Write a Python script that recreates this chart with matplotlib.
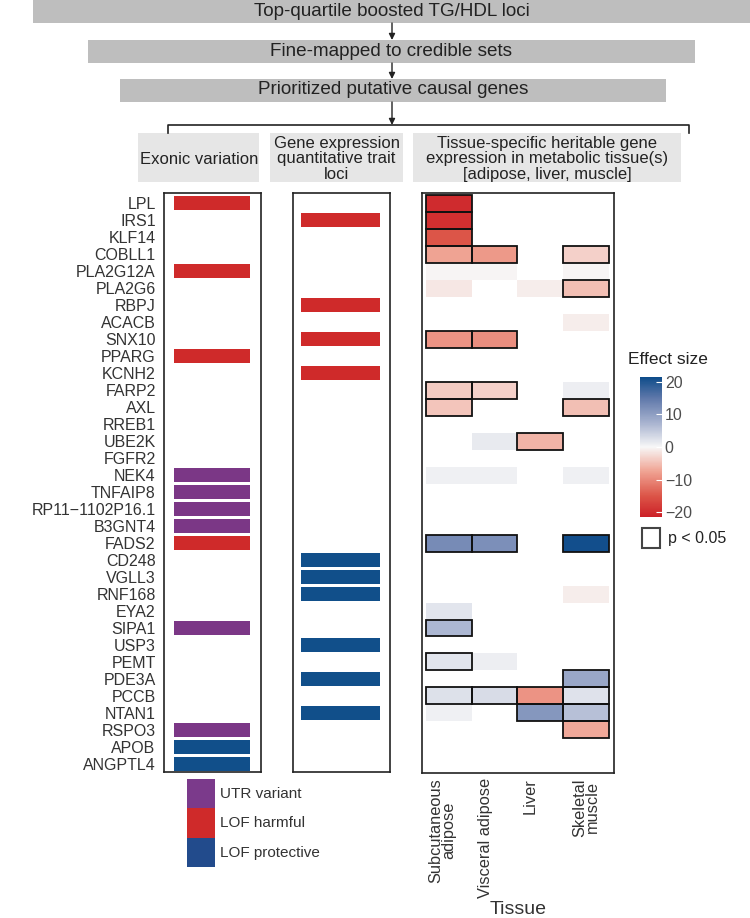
import numpy as np
import matplotlib
matplotlib.use('Agg')
import matplotlib.pyplot as plt
from matplotlib.colors import LinearSegmentedColormap, Normalize
from matplotlib.patches import Rectangle
from matplotlib.cm import ScalarMappable
from matplotlib.transforms import blended_transform_factory

plt.rcParams['font.family'] = ['Liberation Sans', 'DejaVu Sans']

# ---------------- data ----------------
genes = ['LPL', 'IRS1', 'KLF14', 'COBLL1', 'PLA2G12A', 'PLA2G6', 'RBPJ', 'ACACB',
         'SNX10', 'PPARG', 'KCNH2', 'FARP2', 'AXL', 'RREB1', 'UBE2K', 'FGFR2',
         'NEK4', 'TNFAIP8', 'RP11\u22121102P16.1', 'B3GNT4', 'FADS2', 'CD248',
         'VGLL3', 'RNF168', 'EYA2', 'SIPA1', 'USP3', 'PEMT', 'PDE3A', 'PCCB',
         'NTAN1', 'RSPO3', 'APOB', 'ANGPTL4']

exonic_genes = ['LPL', 'PLA2G12A', 'PPARG', 'NEK4', 'TNFAIP8', 'RP11\u22121102P16.1',
                'B3GNT4', 'FADS2', 'SIPA1', 'RSPO3', 'APOB', 'ANGPTL4']
exonic_class = ['LOF harmful', 'LOF harmful', 'LOF harmful', 'UTR variant', 'UTR variant',
                'UTR variant', 'UTR variant', 'LOF harmful', 'UTR variant', 'UTR variant',
                'LOF protective', 'LOF protective']

eqtl_genes = ['IRS1', 'RBPJ', 'SNX10', 'KCNH2', 'CD248', 'VGLL3', 'RNF168', 'USP3',
              'PDE3A', 'NTAN1']
eqtl_class = ['LOF harmful'] * 4 + ['LOF protective'] * 6

class_names = ['UTR variant', 'LOF harmful', 'LOF protective']

tissues = ['Subcutaneous\nadipose', 'Visceral adipose', 'Liver', 'Skeletal\nmuscle']

# heritable expression results: gene, tissue index, effect size, p < 0.05
heat_gene = ['LPL', 'IRS1', 'KLF14',
             'COBLL1', 'COBLL1', 'COBLL1',
             'PLA2G12A', 'PLA2G12A', 'PLA2G12A',
             'PLA2G6', 'PLA2G6', 'PLA2G6',
             'ACACB',
             'SNX10', 'SNX10',
             'FARP2', 'FARP2', 'FARP2',
             'AXL', 'AXL',
             'UBE2K', 'UBE2K',
             'NEK4', 'NEK4', 'NEK4',
             'FADS2', 'FADS2', 'FADS2',
             'RNF168', 'EYA2', 'SIPA1',
             'PEMT', 'PEMT',
             'PDE3A',
             'PCCB', 'PCCB', 'PCCB', 'PCCB',
             'NTAN1', 'NTAN1', 'NTAN1',
             'RSPO3']
heat_tissue = [0, 0, 0,
               0, 1, 3,
               0, 1, 3,
               0, 2, 3,
               3,
               0, 1,
               0, 1, 3,
               0, 3,
               1, 2,
               0, 1, 3,
               0, 1, 3,
               3, 0, 0,
               0, 1,
               3,
               0, 1, 2, 3,
               0, 2, 3,
               3]
heat_effect = [-20.0, -19.5, -15.0,
               -7.5, -8.5, -3.5,
               -0.3, -0.3, -0.3,
               -1.5, -1.0, -5.0,
               -1.0,
               -9.0, -9.5,
               -4.0, -3.5, 1.0,
               -4.5, -5.0,
               1.5, -6.0,
               0.7, 0.7, 0.8,
               12.5, 12.0, 21.0,
               -1.0, 2.0, 7.0,
               2.0, 1.0,
               9.0,
               2.5, 3.0, -9.0, 2.3,
               0.8, 11.0, 6.0,
               -7.0]
heat_sig = [True, True, True,
            True, True, True,
            False, False, False,
            False, False, True,
            False,
            True, True,
            True, True, False,
            True, True,
            False, True,
            False, False, False,
            True, True, True,
            False, False, True,
            True, False,
            True,
            True, True, True, True,
            False, True, True,
            True]

cbar_ticks = [20, 10, 0, -10, -20]

# ---------------- styling ----------------
W, H = 750, 918
class_colors = {'UTR variant': '#7B3786', 'LOF harmful': '#CF2A2A', 'LOF protective': '#114F8A'}
legend_colors = {'UTR variant': '#7B3A8B', 'LOF harmful': '#CF2A2A', 'LOF protective': '#224B8C'}
cmap = LinearSegmentedColormap.from_list(
    'eff', [(0.0, '#CC2027'), (0.15, '#DC5548'), (0.33, '#F0A595'), (0.5, '#F7F7F7'),
            (0.67, '#A9B4D0'), (0.85, '#5F78AA'), (1.0, '#0E4C8A')])
norm = Normalize(-21.5, 21.5)
txt = '#333333'
dark = '#222222'

fig = plt.figure(figsize=(W / 100, H / 100), dpi=100)


def ax_px(x0, y0, x1, y1, **kw):
    return fig.add_axes([x0 / W, 1 - y1 / H, (x1 - x0) / W, (y1 - y0) / H], **kw)


# overlay for the flow chart / legends
ov = ax_px(0, 0, W, H)
ov.set_xlim(0, W)
ov.set_ylim(H, 0)
ov.axis('off')


def box(x0, y0, x1, y1, fc):
    ov.add_patch(Rectangle((x0, y0), x1 - x0, y1 - y0, fc=fc, ec='none'))


box(33, 0, 751, 23, '#BEBEBE')
ov.text(392, 11, 'Top-quartile boosted TG/HDL loci', ha='center', va='center', fontsize=13.6, color=dark)
box(88, 40, 695, 63, '#BEBEBE')
ov.text(391.5, 51, 'Fine-mapped to credible sets', ha='center', va='center', fontsize=13.6, color=dark)
box(120, 79, 666, 102, '#BEBEBE')
ov.text(393.5, 90, 'Prioritized putative causal genes', ha='center', va='center', fontsize=13.6, color=dark)

for ya, yb in [(23, 40), (63, 79), (102, 125)]:
    ov.annotate('', xy=(392, yb), xytext=(392, ya),
                arrowprops=dict(arrowstyle='-|>', color=dark, lw=1.0, mutation_scale=9,
                                shrinkA=0, shrinkB=0))
ov.plot([168, 168, 689, 689], [133, 125, 125, 133], color=dark, lw=1.2)

box(138, 133, 259, 182, '#E6E6E6')
ov.text(199, 159, 'Exonic variation', ha='center', va='center', fontsize=12, color=dark)
box(270, 133, 403, 182, '#E6E6E6')
ov.text(336.5, 159, 'Gene expression\nquantitative trait\nloci', ha='center', va='center',
        fontsize=12, color=dark, linespacing=1.06)
box(413, 133, 681, 182, '#E6E6E6')
ov.text(547, 159, 'Tissue-specific heritable gene\nexpression in metabolic tissue(s)\n[adipose, liver, muscle]',
        ha='center', va='center', fontsize=12, color=dark, linespacing=1.06)

# class legend
for i, c in enumerate(class_names):
    ov.add_patch(Rectangle((187, 779 + 29.3 * i), 28, 29.3, fc=legend_colors[c], ec='none'))
    ov.text(220, 794 + 29.3 * i, c, ha='left', va='center', fontsize=11, color=txt)

# p legend
ov.add_patch(Rectangle((642, 528), 18, 20, fc='white', ec='#444444', lw=1.5))
ov.text(668, 538, 'p < 0.05', ha='left', va='center', fontsize=11.5, color=dark)
ov.text(628, 360, 'Effect size', ha='left', va='center', fontsize=12.5, color=dark)

ov.text(518, 909, 'Tissue', ha='center', va='center', fontsize=14, color=txt)

n = len(genes)
row = {g: i for i, g in enumerate(genes)}
ylim = (33.47, -0.59)


def bar_panel(x0, x1, names, classes, left, width):
    ax = ax_px(x0, 193, x1, 772)
    ax.set_xlim(0, 1)
    ax.set_ylim(*ylim)
    ys = [row[g] for g in names]
    ax.barh(ys, width, left=left, height=0.78, color=[class_colors[c] for c in classes],
            edgecolor='none')
    ax.set_xticks([])
    for s in ax.spines.values():
        s.set_color(dark)
        s.set_linewidth(1.2)
    return ax


ax1 = bar_panel(164, 261, exonic_genes, exonic_class, 0.103, 0.784)
ax1.set_yticks(range(n))
ax1.set_yticklabels(genes, fontsize=11.5, color=txt)
ax1.tick_params(axis='y', length=0, pad=6)

ax2 = bar_panel(293, 390, eqtl_genes, eqtl_class, 0.082, 0.814)
ax2.set_yticks([])

# heatmap
axh = ax_px(422, 193, 614, 773)
grid = np.full((n, len(tissues)), np.nan)
for g, t, v in zip(heat_gene, heat_tissue, heat_effect):
    grid[row[g], t] = v
axh.pcolormesh(np.arange(len(tissues) + 1) - 0.5, np.arange(n + 1) - 0.5,
               np.ma.masked_invalid(grid), cmap=cmap, norm=norm, shading='flat')
for g, t, s in zip(heat_gene, heat_tissue, heat_sig):
    if s:
        axh.add_patch(Rectangle((t - 0.5, row[g] - 0.5), 1, 1, fc='none', ec='#111111', lw=1.3, zorder=3))
axh.set_xlim(-0.587, 3.61)
axh.set_ylim(33.53, -0.59)
axh.set_xticks([])
axh.set_yticks([])
for s in axh.spines.values():
    s.set_color(dark)
    s.set_linewidth(1.2)

trans = blended_transform_factory(axh.transData, axh.transAxes)
label_offsets = [-0.15, -0.2, -0.22, 0.0]
for i, (t, o) in enumerate(zip(tissues, label_offsets)):
    axh.text(i + o, -0.009, t, transform=trans, rotation=90, ha='center', va='top',
             fontsize=11.8, color=txt, linespacing=0.85)

# colorbar
cax = ax_px(640, 377, 662, 517)
cb = fig.colorbar(ScalarMappable(norm=norm, cmap=cmap), cax=cax)
cb.outline.set_visible(False)
cb.set_ticks(cbar_ticks)
cb.set_ticklabels([str(t).replace('-', '\u2212') for t in cbar_ticks])
cax.tick_params(length=4, direction='in', color='white', labelsize=11.5, labelcolor='#4D4D4D', pad=2)

fig.savefig('out.png', dpi=100)
